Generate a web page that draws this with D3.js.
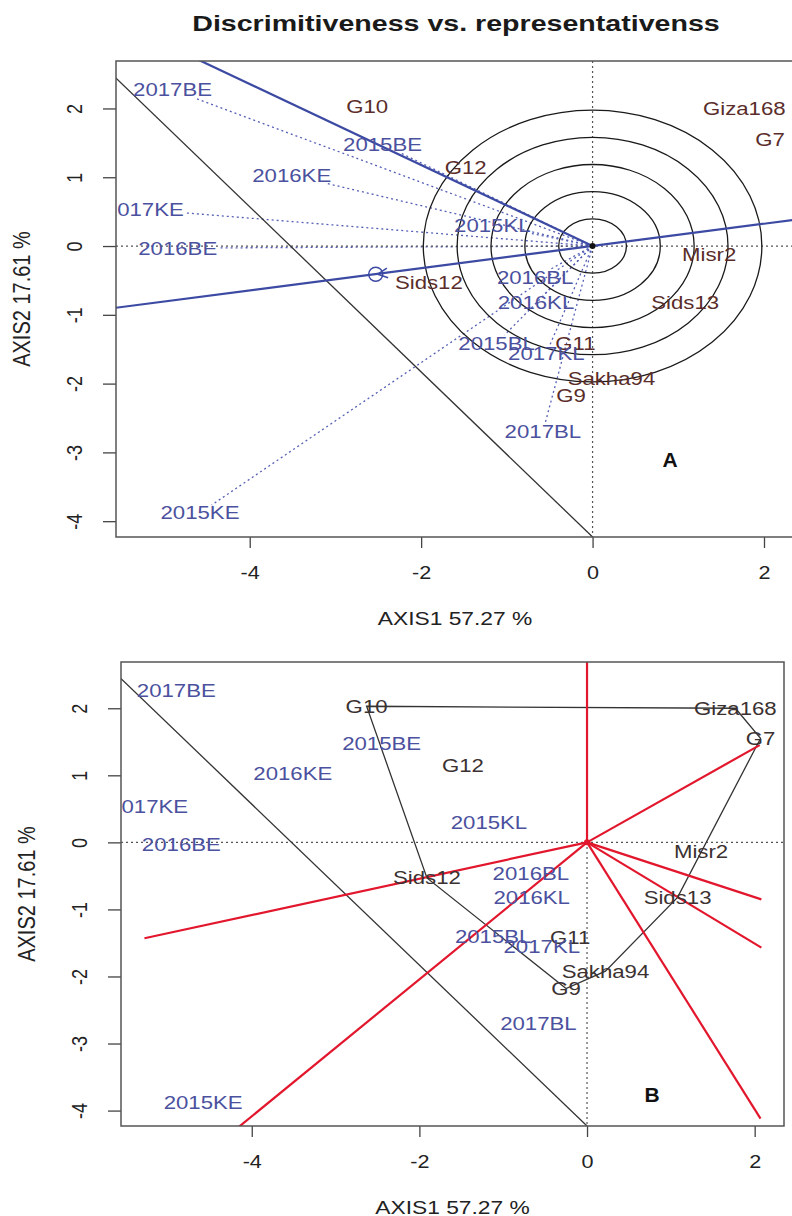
<!DOCTYPE html>
<html>
<head>
<meta charset="utf-8">
<script src="https://cdn.jsdelivr.net/npm/d3@7/dist/d3.min.js"></script>
<style>
  body { margin: 0; background: #fff; }
  text { font-family: "Liberation Sans", Arial, sans-serif; }
</style>
</head>
<body>
<svg id="chart" width="792" height="1216"></svg>
<script>
// GGE biplot pair: discriminitiveness vs representativeness (A) and which-won-where (B)

const chartTitle = "Discrimitiveness vs. representativenss";
const xTitle = "AXIS1 57.27 %";
const yTitle = "AXIS2 17.61 %";

const xTicks = [-4, -2, 0, 2];
const yTicks = [-4, -3, -2, -1, 0, 1, 2];

// genotype scores
const genotypes = ["G10", "Giza168", "G7", "G12", "Misr2", "Sids12", "Sids13", "G11", "Sakha94", "G9"];
const genoX = [-2.63, 1.77, 2.07, -1.48, 1.36, -1.91, 1.08, -0.20, 0.22, -0.25];
const genoY = [2.03, 2.00, 1.55, 1.14, -0.13, -0.53, -0.82, -1.42, -1.92, -2.18];

// environment scores
const envs = ["2017BE", "2015BE", "2016KE", "2017KE", "2016BE", "2015KL", "2016BL", "2016KL", "2015BL", "2017KL", "2017BL", "2015KE"];
const envX = [-4.90, -2.45, -3.51, -5.23, -4.84, -1.17, -0.67, -0.66, -1.12, -0.54, -0.58, -4.58];
const envY = [2.27, 1.48, 1.03, 0.53, -0.03, 0.30, -0.46, -0.82, -1.41, -1.56, -2.70, -3.88];

// panel A extras
const ringRadii = [0.395, 0.79, 1.185, 1.58, 1.975];
const aecLine = [[-5.7, -0.92], [2.5, 0.405]];
const aecOrdLine = [[0, 0], [-4.9, 2.885]];
const avgEnv = [-2.53, -0.41];

// shared diagonal line
const diagLine = [[-5.7, 2.61], [0, -4.23]];

// panel B: hull order and sector rays (end points)
const hullOrder = ["G10", "Giza168", "G7", "Sids13", "Sakha94", "G9", "Sids12"];
const rayX = [0.0, 2.06, 2.08, 2.08, 2.07, -4.21, -5.28];
const rayY = [2.75, 1.45, -0.85, -1.57, -4.12, -4.30, -1.43];

const xDomain = [-5.56, 2.35];
const yDomain = [-4.23, 2.69];

const SX = 1.2;            // horizontal stretch of the original picture
const genoColA = "#5a2d2a";
const genoColB = "#3b3131";
const envCol = "#4b519e";
const blueLine = "#3c4aa3";
const red = "#e2162c";

const svg = d3.select("#chart");

svg.append("text")
  .attr("transform", `translate(456,31) scale(1.3,1)`)
  .attr("text-anchor", "middle")
  .attr("font-size", 22)
  .attr("font-weight", "bold")
  .attr("fill", "#1a1a1a")
  .text(chartTitle);

function stext(g, px, py, txt, size, fill, sx = SX) {
  return g.append("text")
    .attr("transform", `translate(${px},${py}) scale(${sx},1)`)
    .attr("text-anchor", "middle")
    .attr("dy", "0.35em")
    .attr("font-size", size)
    .attr("fill", fill)
    .text(txt);
}

function makePanel(box, id, letter, letterPos) {
  const x = d3.scaleLinear().domain(xDomain).range([box.x0, box.x1]);
  const y = d3.scaleLinear().domain(yDomain).range([box.y1, box.y0]);
  const g = svg.append("g");

  g.append("clipPath").attr("id", id)
    .append("rect")
    .attr("x", box.x0).attr("y", box.y0)
    .attr("width", box.x1 - box.x0).attr("height", box.y1 - box.y0);

  // axes
  const ax = g.append("g")
    .attr("transform", `translate(0,${box.y1})`)
    .call(d3.axisBottom(x).tickValues(xTicks).tickSize(11).tickPadding(18).tickFormat(d => String(d)));
  ax.select(".domain").remove();
  ax.selectAll("line").attr("stroke", "#444").attr("stroke-width", 1.3);
  ax.selectAll("text").attr("font-size", 18).attr("fill", "#222")
    .attr("font-family", "Liberation Sans, Arial, sans-serif")
    .attr("transform", `scale(${SX},1)`);

  const ay = g.append("g")
    .attr("transform", `translate(${box.x0},0)`)
    .call(d3.axisLeft(y).tickValues(yTicks).tickSize(13).tickFormat(d => String(d)));
  ay.select(".domain").remove();
  ay.selectAll("line").attr("stroke", "#444").attr("stroke-width", 1.3);
  ay.selectAll("text").attr("font-size", 18).attr("fill", "#222")
    .attr("font-family", "Liberation Sans, Arial, sans-serif")
    .attr("text-anchor", "middle")
    .attr("x", 0).attr("y", -42 / SX).attr("dy", "0.35em")
    .attr("transform", `scale(${SX},1) rotate(-90)`);

  // axis titles
  stext(g, (box.x0 + box.x1) / 2, box.y1 + 81, xTitle, 19, "#222", 1.2);
  g.append("text")
    .attr("transform", `translate(${box.x0 - 94},${(box.y0 + box.y1) / 2}) scale(1.15,1) rotate(-90)`)
    .attr("text-anchor", "middle")
    .attr("dy", "0.35em")
    .attr("font-size", 20)
    .attr("fill", "#222")
    .text(yTitle);

  const plot = g.append("g").attr("clip-path", `url(#${id})`);

  // dotted reference axes
  plot.append("line")
    .attr("x1", box.x0).attr("x2", box.x1).attr("y1", y(0)).attr("y2", y(0))
    .attr("stroke", "#555").attr("stroke-width", 1.2).attr("stroke-dasharray", "2,3");
  plot.append("line")
    .attr("x1", x(0)).attr("x2", x(0)).attr("y1", box.y0).attr("y2", box.y1)
    .attr("stroke", "#555").attr("stroke-width", 1.2).attr("stroke-dasharray", "2,3");

  // diagonal line
  plot.append("line")
    .attr("x1", x(diagLine[0][0])).attr("y1", y(diagLine[0][1]))
    .attr("x2", x(diagLine[1][0])).attr("y2", y(diagLine[1][1]))
    .attr("stroke", "#333").attr("stroke-width", 1.3);

  // box
  g.append("rect")
    .attr("x", box.x0).attr("y", box.y0)
    .attr("width", box.x1 - box.x0).attr("height", box.y1 - box.y0)
    .attr("fill", "none").attr("stroke", "#555").attr("stroke-width", 1.5);

  // panel letter
  g.append("text")
    .attr("x", letterPos[0]).attr("y", letterPos[1])
    .attr("text-anchor", "middle").attr("dy", "0.35em")
    .attr("font-size", 21).attr("font-weight", "bold").attr("fill", "#111")
    .text(letter);

  return { x, y, g, plot };
}

// ---------- Panel A ----------
const A = makePanel({ x0: 116, x1: 794, y0: 61, y1: 537 }, "clipA", "A", [670, 460]);
{
  const { x, y, plot } = A;
  const ox = x(0), oy = y(0);

  plot.selectAll("ellipse.ring").data(ringRadii).enter()
    .append("ellipse")
    .attr("cx", ox).attr("cy", oy)
    .attr("rx", d => x(d) - ox).attr("ry", d => oy - y(d))
    .attr("fill", "none").attr("stroke", "#1a1a1a").attr("stroke-width", 1.3);

  // environment labels first (need widths for vector ends)
  const envLab = plot.append("g");
  const envIdx = d3.range(envs.length);
  const labs = envIdx.map(i => stext(envLab, x(envX[i]), y(envY[i]), envs[i], 18.5, envCol));

  const vecs = plot.insert("g", ":first-child");
  envIdx.forEach(i => {
    const cx = x(envX[i]), cy = y(envY[i]);
    const hw = labs[i].node().getComputedTextLength() * SX / 2 + 1;
    const hh = 8;
    const vx = ox - cx, vy = oy - cy;
    const s = Math.min(Math.abs(vx) > 0 ? hw / Math.abs(vx) : Infinity,
                       Math.abs(vy) > 0 ? hh / Math.abs(vy) : Infinity);
    vecs.append("line")
      .attr("x1", ox).attr("y1", oy)
      .attr("x2", cx + vx * s).attr("y2", cy + vy * s)
      .attr("stroke", "#5560b5").attr("stroke-width", 1.3).attr("stroke-dasharray", "2,3");
  });

  // average environment axis
  [aecLine, aecOrdLine].forEach(l => {
    plot.append("line")
      .attr("x1", x(l[0][0])).attr("y1", y(l[0][1]))
      .attr("x2", x(l[1][0])).attr("y2", y(l[1][1]))
      .attr("stroke", blueLine).attr("stroke-width", 2.2);
  });
  const ax0 = x(avgEnv[0]), ay0 = y(avgEnv[1]);
  plot.append("circle").attr("cx", ax0).attr("cy", ay0).attr("r", 7)
    .attr("fill", "none").attr("stroke", blueLine).attr("stroke-width", 1.5);
  const ang = Math.atan2(oy - ay0, ox - ax0);
  [0.45, -0.45].forEach(da => {
    plot.append("line")
      .attr("x1", ax0 + 2).attr("y1", ay0)
      .attr("x2", ax0 + 2 + 11 * Math.cos(ang + da)).attr("y2", ay0 + 11 * Math.sin(ang + da))
      .attr("stroke", blueLine).attr("stroke-width", 1.5);
  });

  plot.append("circle").attr("cx", ox).attr("cy", oy).attr("r", 3).attr("fill", "#111");

  genotypes.forEach((gname, i) => stext(plot, x(genoX[i]), y(genoY[i]), gname, 18.5, genoColA));
  envLab.raise();
}

// ---------- Panel B ----------
const B = makePanel({ x0: 121, x1: 784, y0: 662, y1: 1126 }, "clipB", "B", [652, 1095]);
{
  const { x, y, plot } = B;
  const ox = x(0), oy = y(0);

  const hullPts = hullOrder.map(n => {
    const i = genotypes.indexOf(n);
    return [x(genoX[i]), y(genoY[i])];
  });
  plot.append("path")
    .attr("d", d3.line()(hullPts) + "Z")
    .attr("fill", "none").attr("stroke", "#333").attr("stroke-width", 1.3);

  d3.range(rayX.length).forEach(i => {
    plot.append("line")
      .attr("x1", ox).attr("y1", oy)
      .attr("x2", x(rayX[i])).attr("y2", y(rayY[i]))
      .attr("stroke", red).attr("stroke-width", 2.2);
  });
  plot.append("circle").attr("cx", ox).attr("cy", oy).attr("r", 3).attr("fill", red);

  genotypes.forEach((gname, i) => stext(plot, x(genoX[i]), y(genoY[i]), gname, 18.5, genoColB));
  envs.forEach((e, i) => stext(plot, x(envX[i]), y(envY[i]), e, 18.5, envCol));
}
</script>
</body>
</html>
